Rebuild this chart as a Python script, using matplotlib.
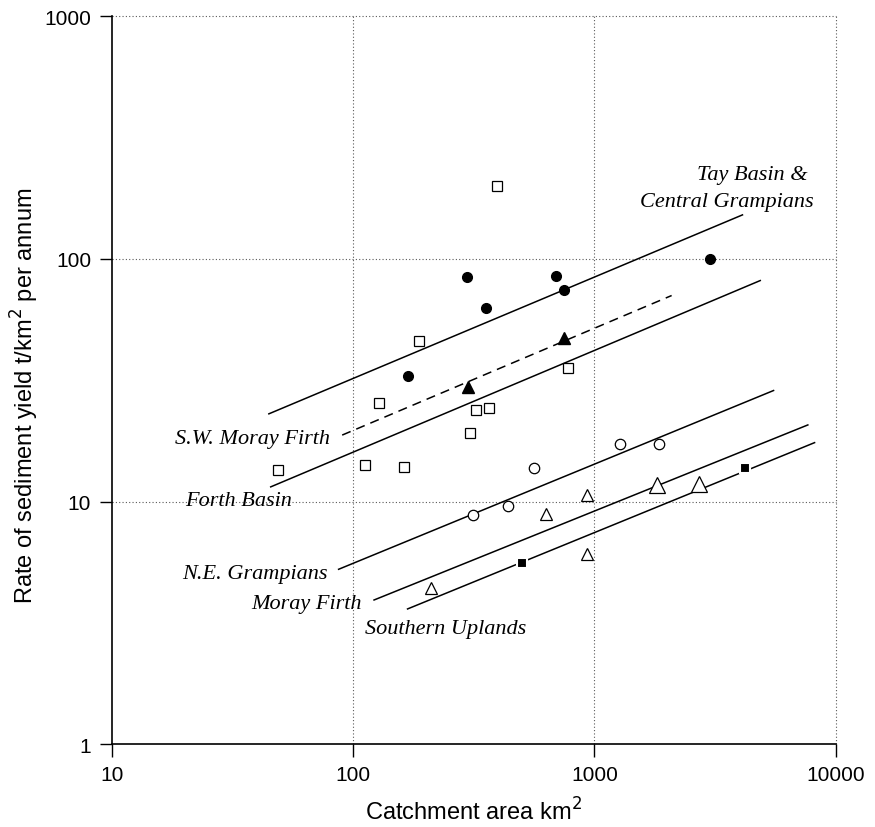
import matplotlib
matplotlib.use('Agg')
import matplotlib.pyplot as plt
from matplotlib.ticker import FixedLocator, FixedFormatter, NullLocator

# observed catchments, grouped by symbol
tay_x = [169, 296, 355, 692, 748, 3020]
tay_y = [32.8, 84, 62.8, 85, 74.8, 100]

swmoray_x = [298, 748]
swmoray_y = [29.6, 47.4]

forth_x = [49, 112, 128, 163, 188, 306, 324, 367, 395, 776]
forth_y = [13.5, 14.1, 25.5, 13.9, 45.7, 19.2, 23.8, 24.3, 200, 35.4]

negramp_x = [315, 438, 563, 1274, 1850]
negramp_y = [8.8, 9.6, 13.8, 17.3, 17.2]

moray_x = [210, 632, 935, 935]
moray_y = [4.42, 8.86, 10.6, 6.1]

moray_big_x = [1811, 2710]
moray_big_y = [11.7, 11.8]

south_x = [500, 4200]
south_y = [5.6, 13.8]

# regression lines (end points)
tay_line_x = [44.7, 4110]
tay_line_y = [23.0, 152]
swmoray_line_x = [90, 2090]
swmoray_line_y = [18.8, 70.7]
forth_line_x = [45.5, 4870]
forth_line_y = [11.5, 81.5]
negramp_line_x = [87, 5530]
negramp_line_y = [5.26, 28.7]
moray_line_x = [122, 7670]
moray_line_y = [3.93, 20.7]
south_line_x = [168, 8180]
south_line_y = [3.61, 17.5]

plt.rcParams['font.family'] = ['Liberation Sans', 'DejaVu Sans']

fig = plt.figure(figsize=(8.75, 8.28), dpi=100)
ax = fig.add_axes([0.128, 0.100, 0.827, 0.879])
ax.set_xscale('log')
ax.set_yscale('log')
ax.set_xlim(10, 10000)
ax.set_ylim(1, 1000)

lw = 1.1
ax.plot(tay_line_x, tay_line_y, color='black', lw=lw, zorder=2)
ax.plot(swmoray_line_x, swmoray_line_y, color='black', lw=lw, ls=(0, (6, 4)), zorder=2)
ax.plot(forth_line_x, forth_line_y, color='black', lw=lw, zorder=2)
ax.plot(negramp_line_x, negramp_line_y, color='black', lw=lw, zorder=2)
ax.plot(moray_line_x, moray_line_y, color='black', lw=lw, zorder=2)
ax.plot(south_line_x, south_line_y, color='black', lw=lw, zorder=2)

ax.plot(tay_x, tay_y, 'o', ms=7, mfc='black', mec='black', ls='none', zorder=3)
ax.plot(swmoray_x, swmoray_y, '^', ms=8.5, mfc='black', mec='black', ls='none', zorder=3)
ax.plot(forth_x, forth_y, 's', ms=7.5, mfc='white', mec='black', mew=0.9, ls='none', zorder=3)
ax.plot(negramp_x, negramp_y, 'o', ms=7.5, mfc='white', mec='black', mew=0.9, ls='none', zorder=3)
ax.plot(moray_x, moray_y, '^', ms=9, mfc='white', mec='black', mew=0.9, ls='none', zorder=3)
ax.plot(moray_big_x, moray_big_y, '^', ms=12, mfc='white', mec='black', mew=0.9, ls='none', zorder=3)
ax.plot(south_x, south_y, 's', ms=7, mfc='black', mec='white', mew=1.5, ls='none', zorder=3)

lab = dict(family=['Liberation Serif', 'DejaVu Serif'], style='italic', fontsize=16)
ax.text(7650, 222, 'Tay Basin &', ha='right', va='center', **lab)
ax.text(8110, 173, 'Central Grampians', ha='right', va='center', **lab)
ax.text(80, 18.2, 'S.W. Moray Firth', ha='right', va='center', **lab)
ax.text(56, 10.1, 'Forth Basin', ha='right', va='center', **lab)
ax.text(78, 5.05, 'N.E. Grampians', ha='right', va='center', **lab)
ax.text(108, 3.8, 'Moray Firth', ha='right', va='center', **lab)
ax.text(242, 3.0, 'Southern Uplands', ha='center', va='center', **lab)

# grid only at the decades, dotted
for v in [100, 1000, 10000]:
    ax.axvline(v, color='0.35', lw=0.8, ls=(0, (1, 2)), zorder=1, clip_on=False)
for v in [10, 100, 1000]:
    ax.axhline(v, color='0.35', lw=0.8, ls=(0, (1, 2)), zorder=1, clip_on=False)

ax.spines['top'].set_visible(False)
ax.spines['right'].set_visible(False)
ax.spines['left'].set_linewidth(1.2)
ax.spines['bottom'].set_linewidth(1.2)

ax.xaxis.set_major_locator(FixedLocator([10, 100, 1000, 10000]))
ax.xaxis.set_major_formatter(FixedFormatter(['10', '100', '1000', '10000']))
ax.yaxis.set_major_locator(FixedLocator([1, 10, 100, 1000]))
ax.yaxis.set_major_formatter(FixedFormatter(['1', '10', '100', '1000']))
ax.xaxis.set_minor_locator(NullLocator())
ax.yaxis.set_minor_locator(NullLocator())
ax.tick_params(length=9, width=1, labelsize=15, pad=6)

ax.set_xlabel('Catchment area km$^2$', fontsize=17, va='center')
ax.set_ylabel('Rate of sediment yield t/km$^2$ per annum', fontsize=17, va='center')
ax.xaxis.set_label_coords(0.5, -0.092)
ax.yaxis.set_label_coords(-0.12, 0.48)

fig.savefig('out.png', dpi=100)
